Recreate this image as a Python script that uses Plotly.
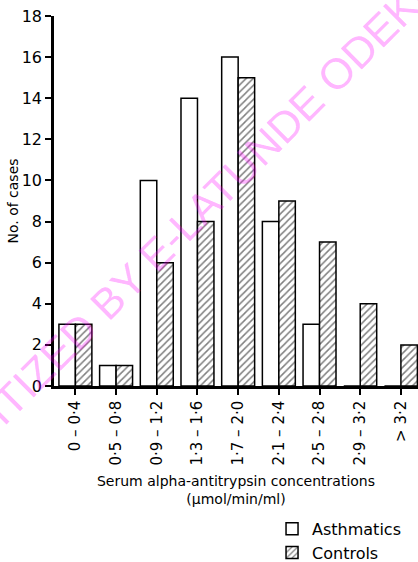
import plotly.graph_objects as go

categories = ["0 – 0·4", "0·5 – 0·8", "0·9 – 1·2", "1·3 – 1·6", "1·7 – 2·0",
              "2·1 – 2·4", "2·5 – 2·8", "2·9 – 3·2", "> 3·2"]
asthmatics = [3, 1, 10, 14, 16, 8, 3, 0, 0]
controls = [3, 1, 6, 8, 15, 9, 7, 4, 2]
y_ticks = [0, 2, 4, 6, 8, 10, 12, 14, 16, 18]

FONT = "DejaVu Sans"

fig = go.Figure()
fig.add_trace(go.Bar(
    x=categories, y=asthmatics, name="Asthmatics", legendgroup="a",
    marker=dict(color="white", line=dict(color="black", width=1.5)),
))
fig.add_trace(go.Bar(
    x=categories, y=controls, name="Controls", legendgroup="c",
    marker=dict(color="white", line=dict(color="black", width=1.5),
                pattern=dict(shape="/", fgcolor="black", bgcolor="white",
                             size=5, solidity=0.3)),
))

fig.update_layout(
    width=418, height=562,
    margin=dict(l=54, r=0, t=16, b=176, autoexpand=False),
    paper_bgcolor="white", plot_bgcolor="white",
    barmode="group", bargap=0.19, bargroupgap=0,
    font=dict(family=FONT, color="black", size=14),
    showlegend=True,
    legend=dict(x=0.599, y=-0.34, xanchor="left", yanchor="top",
                font=dict(size=16, family=FONT), traceorder="grouped",
                tracegroupgap=0, bgcolor="rgba(0,0,0,0)"),
    xaxis=dict(
        type="category", range=[-0.526, 8.42], automargin=False,
        showline=True, linecolor="black", linewidth=2.5,
        ticks="outside", ticklen=6, tickwidth=1.5, tickcolor="black",
        tickangle=-90, tickfont=dict(size=15, family=FONT),
        showgrid=False, zeroline=False,
        title=dict(text="Serum alpha-antitrypsin concentrations<br>(μmol/min/ml)",
                   font=dict(size=14, family=FONT), standoff=12),
    ),
    yaxis=dict(
        range=[0, 18], tickvals=y_ticks, automargin=False,
        showline=True, linecolor="black", linewidth=2.5,
        ticks="outside", ticklen=6, tickwidth=2, tickcolor="black",
        tickfont=dict(size=16, family=FONT),
        showgrid=False, zeroline=False,
        title=dict(text="No. of cases", font=dict(size=14, family=FONT), standoff=0),
    ),
)

fig.add_annotation(
    text="DIGITIZED BY E-LATUNDE ODEKU", xref="paper", yref="paper",
    x=0.3626, y=0.4378, xanchor="center", yanchor="middle",
    textangle=-45, showarrow=False,
    font=dict(family="Liberation Sans", size=43, color="rgba(255,0,255,0.3)"),
)

fig.write_html("out.html", config={"displayModeBar": False},
               post_script="document.body.style.margin='0';")
